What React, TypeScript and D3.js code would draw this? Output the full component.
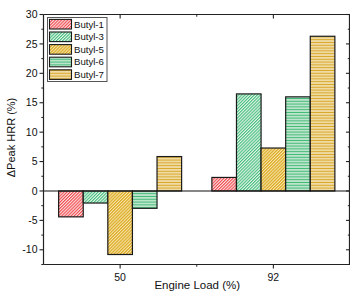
import React from "react";
import * as d3 from "d3";

const categories = ["50", "92"];
const seriesNames = ["Butyl-1", "Butyl-3", "Butyl-5", "Butyl-6", "Butyl-7"];
const butyl1 = [-4.4, 2.3];
const butyl3 = [-2.05, 16.5];
const butyl5 = [-10.8, 7.3];
const butyl6 = [-2.95, 16.0];
const butyl7 = [5.85, 26.3];
const seriesValues = [butyl1, butyl3, butyl5, butyl6, butyl7];
const yTicks = [-10, -5, 0, 5, 10, 15, 20, 25, 30];

const W = 350, H = 293;
const L = 43.5, R = 350, T = 14.5, B = 264.5;

const FONT = "Liberation Sans, Arial, sans-serif";

export default function App() {
  const x = d3.scaleBand<string>().domain(categories).range([L, R]).padding(0);
  const inner = d3.scaleBand<string>().domain(seriesNames).range([0, x.bandwidth()]).paddingInner(0).paddingOuter(0.615);
  const y = d3.scaleLinear().domain([-12.5, 30]).range([B, T]);
  const minorY = d3.range(-12.5, 30.01, 2.5).filter((v) => Math.abs(v % 5) > 0.01);
  const catCenters = categories.map((c) => (x(c) as number) + x.bandwidth() / 2);
  const catBounds = categories.slice(1).map((c) => x(c) as number);

  const fills = ["url(#p1)", "url(#p3)", "url(#p5)", "url(#p6)", "url(#p7)"];
  const legendY0 = 24.2;
  const legendStep = 12.6;

  return (
    <svg width={W} height={H} style={{ position: "absolute", left: 0, top: 0 }} fontFamily={FONT}>
      <defs>
        <pattern id="p1" patternUnits="userSpaceOnUse" width="2.2" height="2.2" patternTransform="rotate(45)">
          <rect width="2.2" height="2.2" fill="#fde4e4" />
          <rect width="1.1" height="2.2" fill="#f0484d" />
        </pattern>
        <pattern id="p3" patternUnits="userSpaceOnUse" width="2.2" height="2.2" patternTransform="rotate(45)">
          <rect width="2.2" height="2.2" fill="#e4f6eb" />
          <rect width="1.1" height="2.2" fill="#47bd7d" />
        </pattern>
        <pattern id="p5" patternUnits="userSpaceOnUse" width="2.2" height="2.2" patternTransform="rotate(45)">
          <rect width="2.2" height="2.2" fill="#f8e6b0" />
          <rect width="1.2" height="2.2" fill="#dcaa22" />
        </pattern>
        <pattern id="p6" patternUnits="userSpaceOnUse" width="6" height="2.8">
          <rect width="6" height="2.8" fill="#a4dcba" />
          <rect y="0" width="6" height="0.9" fill="#3db873" />
          <rect y="1.5" width="6" height="0.7" fill="#e2f4e9" />
        </pattern>
        <pattern id="p7" patternUnits="userSpaceOnUse" width="6" height="2.8">
          <rect width="6" height="2.8" fill="#ebd18c" />
          <rect y="0" width="6" height="0.9" fill="#d8a623" />
          <rect y="1.5" width="6" height="0.7" fill="#f8eccd" />
        </pattern>
      </defs>

      {/* bars */}
      {categories.map((c, ci) =>
        seriesNames.map((s, si) => {
          const v = seriesValues[si][ci];
          const bx = (x(c) as number) + (inner(s) as number);
          const y0 = y(0), y1 = y(v);
          return (
            <rect key={c + s} x={bx} y={Math.min(y0, y1)} width={inner.bandwidth()} height={Math.abs(y1 - y0)}
              fill={fills[si]} stroke="#1a1a1a" strokeWidth={1.2} />
          );
        })
      )}

      {/* zero line */}
      <line x1={L} x2={R} y1={y(0)} y2={y(0)} stroke="#111" strokeWidth={1.1} />

      {/* frame */}
      <line x1={L} x2={L} y1={T} y2={B} stroke="#222" strokeWidth={1.2} />
      <line x1={L} x2={R} y1={B} y2={B} stroke="#222" strokeWidth={1.2} />
      <line x1={L} x2={R} y1={T} y2={T} stroke="#222" strokeWidth={1.2} />
      <line x1={R - 0.5} x2={R - 0.5} y1={T} y2={B} stroke="#222" strokeWidth={1.2} />

      {/* y ticks left (outward) and right (inward) */}
      {yTicks.map((t) => (
        <g key={"yt" + t}>
          <line x1={L - 4} x2={L} y1={y(t)} y2={y(t)} stroke="#222" strokeWidth={1.1} />
          <line x1={R - 4} x2={R} y1={y(t)} y2={y(t)} stroke="#222" strokeWidth={1.1} />
          <text x={L - 6} y={y(t)} dy="0.35em" textAnchor="end" fontSize={10.5} fill="#111">{t}</text>
        </g>
      ))}
      {minorY.map((t) => (
        <g key={"ym" + t}>
          <line x1={L - 2.2} x2={L} y1={y(t)} y2={y(t)} stroke="#222" strokeWidth={1} />
          <line x1={R - 2.2} x2={R} y1={y(t)} y2={y(t)} stroke="#222" strokeWidth={1} />
        </g>
      ))}

      {/* x ticks */}
      {categories.map((c, i) => (
        <g key={"xt" + c}>
          <line x1={catCenters[i]} x2={catCenters[i]} y1={B} y2={B + 4} stroke="#222" strokeWidth={1.1} />
          <line x1={catCenters[i]} x2={catCenters[i]} y1={T} y2={T + 4} stroke="#222" strokeWidth={1.1} />
          <text x={catCenters[i]} y={B + 16} textAnchor="middle" fontSize={10.5} fill="#111">{c}</text>
        </g>
      ))}
      {catBounds.map((b) => (
        <g key={"xb" + b}>
          <line x1={b} x2={b} y1={B} y2={B + 2.2} stroke="#222" strokeWidth={1} />
          <line x1={b} x2={b} y1={T} y2={T + 2.2} stroke="#222" strokeWidth={1} />
        </g>
      ))}

      {/* axis titles */}
      <text x={(L + R) / 2 + 0.5} y={289} textAnchor="middle" fontSize={11.5} fill="#111">Engine Load (%)</text>
      <text transform={`translate(14.5,${(T + B) / 2 - 2}) rotate(-90)`} textAnchor="middle" fontSize={11} fill="#111">ΔPeak HRR (%)</text>

      {/* legend */}
      <rect x={47.5} y={17.5} width={59.5} height={64} fill="#fff" stroke="#555" strokeWidth={1} />
      {seriesNames.map((s, i) => {
        const cy = legendY0 + i * legendStep;
        return (
          <g key={"lg" + s}>
            <rect x={49.5} y={cy - 4.8} width={22} height={9.6} fill={fills[i]} stroke="#1a1a1a" strokeWidth={1.1} />
            <text x={74} y={cy} dy="0.36em" fontSize={9.6} fill="#111">{s}</text>
          </g>
        );
      })}
    </svg>
  );
}
